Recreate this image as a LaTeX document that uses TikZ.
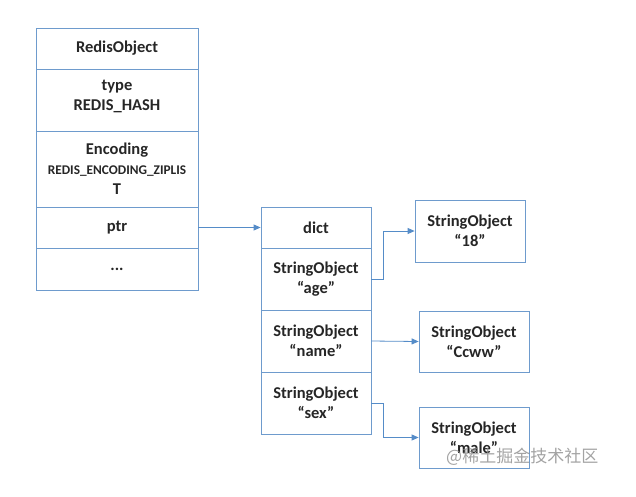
\documentclass[tikz,border=0pt]{standalone}
\usepackage{fontspec}
\setmainfont{Carlito}
\newfontfamily\cjk{Noto Sans CJK SC}
\usetikzlibrary{arrows.meta}
\definecolor{boxline}{RGB}{110,155,205}
\definecolor{arrowc}{RGB}{85,140,200}
\begin{document}
\begin{tikzpicture}[x=1pt,y=-1pt,
  cell/.style={draw=boxline,line width=0.8pt,inner sep=0pt,align=center,
    font=\fontsize{16.5}{20}\selectfont\bfseries,text=black!85},
  conn/.style={draw=arrowc,line width=0.8pt,-{Triangle[length=7pt,width=6pt]}}]
\useasboundingbox (0,0) rectangle (636,496);
% left RedisObject
\node[cell,minimum width=162pt,minimum height=41pt] (r1) at (117,48.5) {RedisObject};
\node[cell,minimum width=162pt,minimum height=62pt] (r2) at (117,100) {type\\REDIS\_HASH\\[-10pt]};
\node[cell,minimum width=162pt,minimum height=76pt] (r3) at (117,169) {Encoding\\{\fontsize{13.3}{20}\selectfont REDIS\_ENCODING\_ZIPLIS}\\T};
\node[cell,minimum width=162pt,minimum height=41pt] (r4) at (117,227.5) {ptr};
\node[cell,minimum width=162pt,minimum height=42pt] (r5) at (117,269) {...};
% dict
\node[cell,minimum width=110pt,minimum height=41pt] (m1) at (316,227.5) {dict};
\node[cell,minimum width=110pt,minimum height=62pt] (m2) at (316,279) {StringObject\\“age”};
\node[cell,minimum width=110pt,minimum height=62pt] (m3) at (316,341) {StringObject\\“name”};
\node[cell,minimum width=110pt,minimum height=62pt] (m4) at (316,403) {StringObject\\“sex”};
% values
\node[cell,minimum width=110pt,minimum height=62pt] (s1) at (470,231) {StringObject\\“18”};
\node[cell,minimum width=110pt,minimum height=61pt] (s2) at (474,341.5) {StringObject\\“Ccww”};
\node[cell,minimum width=110pt,minimum height=61pt] (s3) at (474,437.5) {StringObject\\“male”};
% connectors
\draw[conn] (r4.east) -- (m1.west);
\draw[conn] (m2.east) -- ++(12,0) |- (s1.west);
\draw[conn] (m3.east) -- (s2.west);
\draw[conn] (m4.east) -- ++(12,0) |- (s3.west);
% watermark
\node[text=black!45,opacity=0.8,font=\cjk\fontsize{17}{17}\selectfont,anchor=west,inner sep=0pt] (wm) at (446,457) {@稀土掘金技术社区};
\end{tikzpicture}
\end{document}
